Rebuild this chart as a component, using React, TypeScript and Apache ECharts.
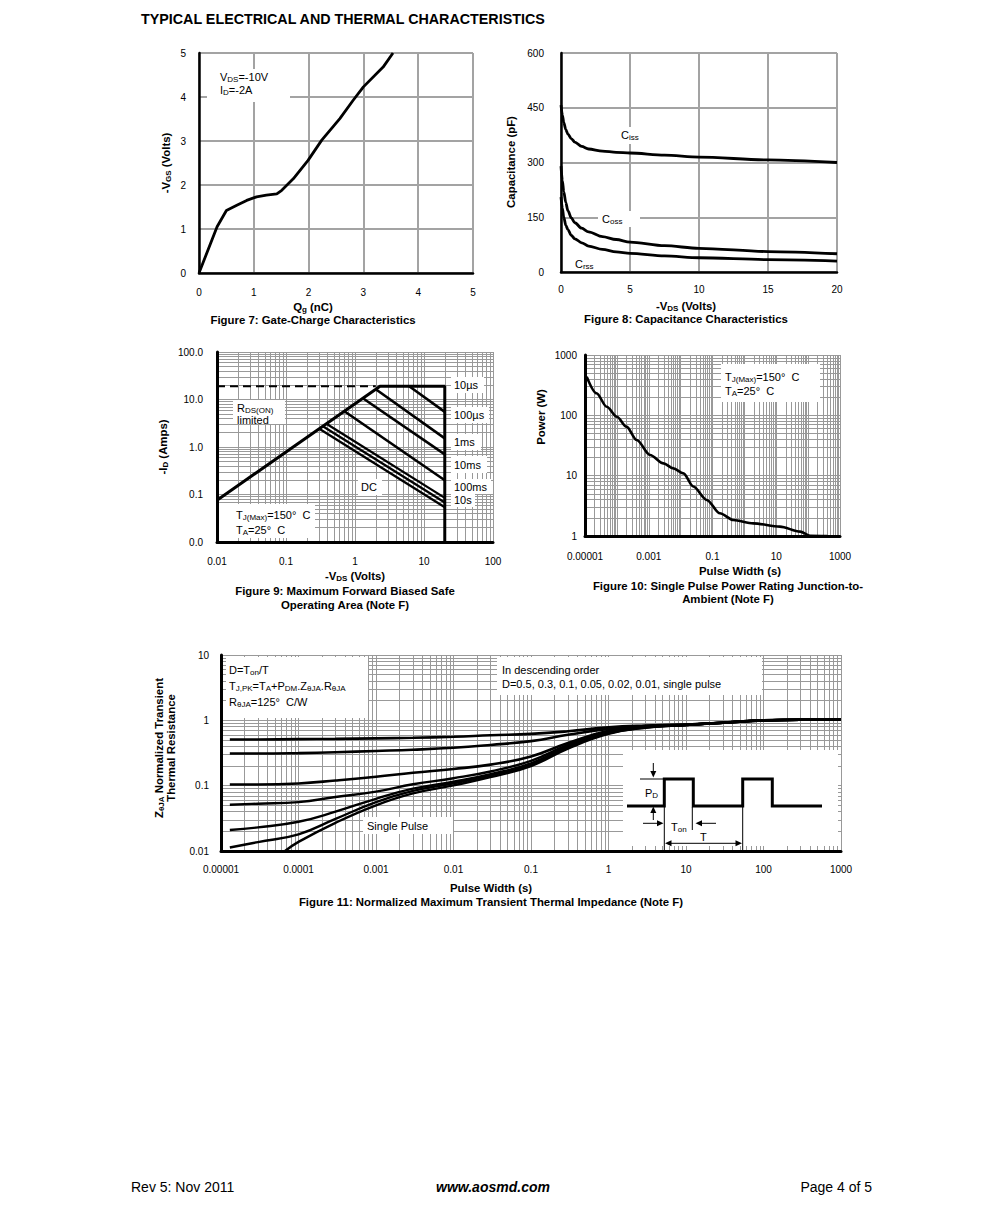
import React, { useEffect, useRef } from 'react';
import * as echarts from 'echarts';

const FONT = '"Liberation Sans", Arial, Helvetica, sans-serif';

// ---------------- Figure 7: Gate charge ----------------
const fig7Qg = [0, 0.33, 0.5, 0.69, 0.87, 1.05, 1.23, 1.42, 1.51, 1.72, 1.99, 2.24, 2.57, 2.81, 3.0, 3.36, 3.54];
const fig7Vgs = [0, 1.05, 1.42, 1.54, 1.65, 1.73, 1.77, 1.8, 1.88, 2.14, 2.56, 3.02, 3.51, 3.92, 4.23, 4.68, 5.0];

// ---------------- Figure 8: Capacitance ----------------
const fig8Vds = [0, 0.1, 0.2, 0.35, 0.5, 0.75, 1, 1.5, 2, 3, 4, 5, 7.5, 10, 15, 20];
const fig8Ciss = [457, 430, 410, 390, 378, 365, 356, 344, 337, 331, 328, 326, 320, 315, 307, 300];
const fig8Coss = [290, 250, 220, 190, 168, 148, 135, 120, 110, 97, 89, 82, 72, 65, 56, 50];
const fig8Crss = [205, 175, 150, 128, 116, 100, 91, 80, 71, 62, 55, 51, 44, 39, 34, 30];

// ---------------- Figure 9: SOA ----------------
const fig9Envelope = [[0.01, 0.076], [2.0, 16.4], [2.3, 19], [20, 19], [20, 0.01]];
const fig9RdsDashed = [[0.01, 19], [2.0, 19]];
const fig9Line10us = [[6.1, 19], [20, 5.5]];
const fig9Line100us = [[2.0, 16.4], [20, 1.52]];
const fig9Line1ms = [[1.3, 10.6], [20, 0.7]];
const fig9Line10ms = [[0.71, 5.6], [20, 0.2]];
const fig9Line100ms = [[0.385, 3.08], [20, 0.085]];
const fig9Line10s = [[0.342, 2.73], [20, 0.0676]];
const fig9LineDC = [[0.3035, 2.42], [20, 0.0538]];

// ---------------- Figure 10: Single pulse power ----------------
const fig10Pulse = [1.13e-5, 2.3e-5, 4.8e-5, 1e-4, 2e-4, 4.2e-4, 1.1e-3, 2.9e-3, 5.9e-3, 0.0122, 0.025, 0.066, 0.17, 0.45, 1.9, 13, 56, 115, 400];
const fig10Power = [438, 232, 139, 95, 65, 39, 22, 16, 13.2, 10.9, 6.6, 3.96, 2.38, 1.84, 1.62, 1.43, 1.18, 1.01, 1.0];

// ---------------- Figure 11: Transient thermal impedance ----------------
const fig11X = [1.3e-5, 3e-5, 1e-4, 3e-4, 1e-3, 3e-3, 0.01, 0.03, 0.1, 0.3, 1, 3, 10, 30, 100, 1000];
const fig11D05 = [0.51, 0.51, 0.515, 0.52, 0.53, 0.54, 0.56, 0.59, 0.62, 0.68, 0.78, 0.83, 0.86, 0.92, 1.0, 1.03];
const fig11D03 = [0.31, 0.31, 0.315, 0.325, 0.34, 0.355, 0.38, 0.42, 0.48, 0.6, 0.74, 0.82, 0.86, 0.92, 1.0, 1.03];
const fig11D01 = [0.104, 0.104, 0.108, 0.12, 0.137, 0.158, 0.18, 0.21, 0.28, 0.45, 0.69, 0.8, 0.855, 0.92, 1.0, 1.03];
const fig11D005 = [0.051, 0.053, 0.056, 0.067, 0.081, 0.105, 0.13, 0.165, 0.24, 0.42, 0.66, 0.79, 0.85, 0.92, 1.0, 1.03];
const fig11D002 = [0.021, 0.023, 0.028, 0.04, 0.063, 0.09, 0.115, 0.15, 0.22, 0.4, 0.64, 0.78, 0.85, 0.92, 1.0, 1.03];
const fig11D001 = [0.0113, 0.0137, 0.018, 0.031, 0.056, 0.083, 0.109, 0.143, 0.21, 0.39, 0.63, 0.78, 0.85, 0.92, 1.0, 1.03];
const fig11SingleX = [6.7e-5, 1e-4, 3e-4, 1e-3, 3e-3, 0.01, 0.03, 0.1, 0.3, 1, 3, 10, 30, 100, 1000];
const fig11Single = [0.01, 0.0138, 0.027, 0.05, 0.076, 0.101, 0.135, 0.2, 0.37, 0.62, 0.77, 0.85, 0.92, 1.0, 1.03];

// ---------------- Tick labels ----------------
const fig9XTicks = [0.01, 0.1, 1, 10, 100];
const fig9XLabels = ['0.01', '0.1', '1', '10', '100'];
const fig9YTicks = [0.01, 0.1, 1, 10, 100];
const fig9YLabels = ['0.0', '0.1', '1.0', '10.0', '100.0'];
const fig10XTicks = [1e-5, 1e-3, 0.1, 10, 1000];
const fig10XLabels = ['0.00001', '0.001', '0.1', '10', '1000'];
const fig10YTicks = [1, 10, 100, 1000];
const fig10YLabels = ['1', '10', '100', '1000'];
const fig11XTicks = [1e-5, 1e-4, 1e-3, 1e-2, 0.1, 1, 10, 100, 1000];
const fig11XLabels = ['0.00001', '0.0001', '0.001', '0.01', '0.1', '1', '10', '100', '1000'];
const fig11YTicks = [0.01, 0.1, 1, 10];
const fig11YLabels = ['0.01', '0.1', '1', '10'];

function decadeGrid(lo: number, hi: number) {
  const out: number[] = [];
  for (let e = lo; e < hi; e++) for (let n = 1; n <= 9; n++) out.push(Number((n * Math.pow(10, e)).toPrecision(3)));
  out.push(Number(Math.pow(10, hi).toPrecision(3)));
  return out;
}

function fmtLog(ticks: number[], labels: string[]) {
  return (v: number) => {
    let best = 0;
    let bd = Infinity;
    ticks.forEach((t, i) => {
      const d = Math.abs(Math.log10(t) - Math.log10(v));
      if (d < bd) { bd = d; best = i; }
    });
    return bd < 0.05 ? labels[best] : '';
  };
}

type Part = string | string[];
function richText(parts: Part[]) {
  return parts.map((p) => (typeof p === 'string' ? `{n|${p}}` : `{s|${p[0]}}`)).join('');
}
function txt(x: number, y: number, parts: Part[], o: any = {}) {
  const size = o.size ?? 11;
  const fw = o.bold ? 'bold' : 'normal';
  const fs = o.italic ? 'italic' : 'normal';
  const subSize = Math.round(size * 0.72);
  const align = o.align ?? 'left';
  return {
    type: 'text', x, y, rotation: o.rot ?? 0, z: 30,
    style: {
      text: richText(parts),
      rich: {
        n: { fontSize: size, fontWeight: fw, fontStyle: fs, fontFamily: FONT, fill: '#000', color: '#000' },
        s: { fontSize: subSize, fontWeight: fw, fontStyle: fs, fontFamily: FONT, fill: '#000', color: '#000', padding: [Math.round(size * 0.45), 0, 0, 0] },
      },
      fontSize: size, fontFamily: FONT, fontWeight: fw, fontStyle: fs, fill: '#000',
      textAlign: align, align,
      textVerticalAlign: 'middle', verticalAlign: 'middle',
    },
  };
}
const box = (x: number, y: number, w: number, h: number) => ({ type: 'rect', z: 1, shape: { x, y, width: w, height: h }, style: { fill: '#fff' } });
const pl = (pts: number[][], w: number) => ({ type: 'polyline', z: 30, shape: { points: pts }, style: { stroke: '#000', lineWidth: w, fill: null } });
const tri = (pts: number[][]) => ({ type: 'polygon', z: 30, shape: { points: pts }, style: { fill: '#000' } });

const zip = (xs: number[], ys: number[]) => xs.map((x, i) => [x, ys[i]]);

const axisText = { fontSize: 10, fontFamily: FONT, color: '#000' };
const linSplit = { show: true, lineStyle: { color: '#a3a3a3', width: 2 } };
const logSplit = { show: true, lineStyle: { color: '#999', width: 1 } };
const blackAxis = (w: number) => ({ show: true, onZero: false, lineStyle: { color: '#000', width: w } });

function logAxis(gi: number, min: number, max: number, lo: number, hi: number, ticks: number[], labels: string[], margin: number, w = 3) {
  return {
    type: 'log', logBase: 10, gridIndex: gi, min, max,
    axisLine: blackAxis(w),
    axisTick: { show: false, customValues: decadeGrid(lo, hi) },
    axisLabel: { ...axisText, margin, customValues: ticks, formatter: fmtLog(ticks, labels) },
    splitLine: logSplit,
    minorTick: { show: false },
  };
}

const lineSeries = (gi: number, data: number[][], width = 2.6, extra: any = {}) => ({
  type: 'line', xAxisIndex: gi, yAxisIndex: gi, data, symbol: 'none', showSymbol: false, silent: true,
  lineStyle: { color: '#000', width }, clip: true, z: 3, ...extra,
});

function buildOption() {
  const grid = [
    { left: 199, top: 53, width: 274, height: 220 },
    { left: 561, top: 53, width: 276, height: 219 },
    { left: 217, top: 352, width: 276, height: 190 },
    { left: 585, top: 355, width: 255, height: 181 },
    { left: 221, top: 655, width: 620, height: 196 },
  ];
  const xAxis = [
    { type: 'value', gridIndex: 0, min: 0, max: 5, interval: 1, axisLine: blackAxis(2.5), axisTick: { show: false }, axisLabel: { ...axisText, margin: 14 }, splitLine: linSplit },
    { type: 'value', gridIndex: 1, min: 0, max: 20, interval: 5, axisLine: blackAxis(2.5), axisTick: { show: false }, axisLabel: { ...axisText, margin: 12 }, splitLine: linSplit },
    logAxis(2, 0.01, 100, -2, 2, fig9XTicks, fig9XLabels, 14),
    logAxis(3, 1e-5, 1000, -5, 3, fig10XTicks, fig10XLabels, 15),
    logAxis(4, 1e-5, 1000, -5, 3, fig11XTicks, fig11XLabels, 13),
  ];
  const yAxis = [
    { type: 'value', gridIndex: 0, min: 0, max: 5, interval: 1, axisLine: blackAxis(2.5), axisTick: { show: false }, axisLabel: { ...axisText, margin: 13 }, splitLine: linSplit },
    { type: 'value', gridIndex: 1, min: 0, max: 600, interval: 150, axisLine: blackAxis(2.5), axisTick: { show: false }, axisLabel: { ...axisText, margin: 17 }, splitLine: linSplit },
    logAxis(2, 0.01, 100, -2, 2, fig9YTicks, fig9YLabels, 14),
    logAxis(3, 1, 1000, 0, 3, fig10YTicks, fig10YLabels, 8),
    logAxis(4, 0.01, 10, -2, 1, fig11YTicks, fig11YLabels, 12),
  ];

  const sm = { smooth: 0.3, smoothMonotone: 'x' };
  const sm11 = { smooth: 0.45 };
  const series = [
    lineSeries(0, zip(fig7Qg, fig7Vgs), 2.8),
    lineSeries(1, zip(fig8Vds, fig8Ciss), 2.8, sm),
    lineSeries(1, zip(fig8Vds, fig8Coss), 2.8, sm),
    lineSeries(1, zip(fig8Vds, fig8Crss), 2.8, sm),
    lineSeries(2, fig9Envelope, 3),
    lineSeries(2, fig9RdsDashed, 2, { lineStyle: { color: '#000', width: 2, type: [8, 5] } }),
    lineSeries(2, fig9Line10us, 2.6),
    lineSeries(2, fig9Line100us, 2.6),
    lineSeries(2, fig9Line1ms, 2.6),
    lineSeries(2, fig9Line10ms, 2.6),
    lineSeries(2, fig9Line100ms, 2.3),
    lineSeries(2, fig9Line10s, 2.3),
    lineSeries(2, fig9LineDC, 2.3),
    lineSeries(3, zip(fig10Pulse, fig10Power), 2.6, sm),
    lineSeries(4, zip(fig11X, fig11D05), 2.6, sm11),
    lineSeries(4, zip(fig11X, fig11D03), 2.6, sm11),
    lineSeries(4, zip(fig11X, fig11D01), 2.6, sm11),
    lineSeries(4, zip(fig11X, fig11D005), 2.4, sm11),
    lineSeries(4, zip(fig11X, fig11D002), 2.4, sm11),
    lineSeries(4, zip(fig11X, fig11D001), 2.4, sm11),
    lineSeries(4, zip(fig11SingleX, fig11Single), 2.4, sm11),
  ];

  const B = { bold: true, size: 11.4 };
  const R90 = Math.PI / 2;
  const graphic: any[] = [
    // Page header / footer
    txt(141, 19, ['TYPICAL ELECTRICAL AND THERMAL CHARACTERISTICS'], { bold: true, size: 14.3 }),
    txt(131, 1187, ['Rev 5: Nov 2011'], { size: 14 }),
    txt(493, 1187, ['www.aosmd.com'], { size: 14, bold: true, italic: true, align: 'center' }),
    txt(872, 1187, ['Page 4 of 5'], { size: 14, align: 'right' }),

    // Figure 7
    box(207, 69, 83, 33),
    txt(220, 77, ['V', ['DS'], '=-10V']),
    txt(220, 90, ['I', ['D'], '=-2A']),
    txt(166, 163, ['-V', ['GS'], ' (Volts)'], { ...B, align: 'center', rot: R90 }),
    txt(313, 307, ['Q', ['g'], ' (nC)'], { ...B, align: 'center' }),
    txt(313, 320, ['Figure 7: Gate-Charge Characteristics'], { ...B, align: 'center' }),

    // Figure 8
    box(618, 127, 26, 17),
    txt(621, 135, ['C', ['iss']]),
    box(598, 211, 42, 16),
    txt(602, 219, ['C', ['oss']]),
    txt(575, 264, ['C', ['rss']]),
    txt(511, 162, ['Capacitance (pF)'], { ...B, align: 'center', rot: R90 }),
    txt(686, 306, ['-V', ['DS'], ' (Volts)'], { ...B, align: 'center' }),
    txt(686, 319, ['Figure 8: Capacitance Characteristics'], { ...B, align: 'center' }),

    // Figure 9
    box(233, 400, 52, 24),
    txt(237, 408, ['R', ['DS(ON)']]),
    txt(237, 420, ['limited']),
    box(219, 504, 96, 34),
    txt(236, 515, ['T', ['J(Max)'], '=150°  C']),
    txt(236, 530, ['T', ['A'], '=25°  C']),
    box(451, 377, 33, 16), txt(454, 385, ['10µs']),
    box(451, 407, 38, 16), txt(454, 415, ['100µs']),
    box(451, 434, 30, 16), txt(454, 442, ['1ms']),
    box(451, 456, 36, 17), txt(454, 465, ['10ms']),
    box(451, 479, 40, 15), txt(454, 487, ['100ms']),
    box(451, 493, 24, 14), txt(454, 500, ['10s']),
    box(358, 479, 24, 16), txt(361, 487, ['DC']),
    txt(163, 447, ['-I', ['D'], ' (Amps)'], { ...B, align: 'center', rot: R90 }),
    txt(355, 576, ['-V', ['DS'], ' (Volts)'], { ...B, align: 'center' }),
    txt(345, 591, ['Figure 9: Maximum Forward Biased Safe'], { ...B, align: 'center' }),
    txt(345, 605, ['Operating Area (Note F)'], { ...B, align: 'center' }),

    // Figure 10
    box(721, 364, 99, 38),
    txt(725, 377, ['T', ['J(Max)'], '=150°  C']),
    txt(725, 391, ['T', ['A'], '=25°  C']),
    txt(541, 417, ['Power (W)'], { ...B, align: 'center', rot: R90 }),
    txt(740, 571, ['Pulse Width (s)'], { ...B, align: 'center' }),
    txt(728, 586, ['Figure 10: Single Pulse Power Rating Junction-to-'], { ...B, align: 'center' }),
    txt(728, 599, ['Ambient (Note F)'], { ...B, align: 'center' }),

    // Figure 11
    box(226, 657, 142, 61),
    txt(229, 670, ['D=T', ['on'], '/T']),
    txt(229, 686, ['T', ['J,PK'], '=T', ['A'], '+P', ['DM'], '.Z', ['θJA'], '.R', ['θJA']]),
    txt(229, 702, ['R', ['θJA'], '=125°  C/W']),
    box(497, 657, 265, 38),
    txt(502, 670, ['In descending order']),
    txt(502, 684, ['D=0.5, 0.3, 0.1, 0.05, 0.02, 0.01, single pulse']),
    box(363, 817, 90, 17),
    txt(367, 826, ['Single Pulse']),
    box(623, 750, 215, 96),
    txt(159, 748, ['Z', ['θJA'], ' Normalized Transient'], { ...B, align: 'center', rot: R90 }),
    txt(171, 748, ['Thermal Resistance'], { ...B, align: 'center', rot: R90 }),
    txt(491, 888, ['Pulse Width (s)'], { ...B, align: 'center' }),
    txt(491, 902, ['Figure 11: Normalized Maximum Transient Thermal Impedance (Note F)'], { ...B, align: 'center' }),

    // Pulse diagram
    pl([[627, 806], [664.3, 806], [664.3, 779], [693.3, 779], [693.3, 806], [742.7, 806], [742.7, 779], [772.3, 779], [772.3, 806], [822, 806]], 3),
    pl([[640, 779], [664, 779]], 1),
    pl([[653.3, 763], [653.3, 772]], 1),
    tri([[650.3, 771], [656.3, 771], [653.3, 777.5]]),
    pl([[653.3, 820], [653.3, 812]], 1),
    tri([[650.3, 813], [656.3, 813], [653.3, 806.5]]),
    pl([[664.3, 806], [664.3, 850]], 1),
    pl([[742.7, 806], [742.7, 850]], 1),
    pl([[692.3, 807], [692.3, 830]], 1),
    pl([[643, 823.3], [658, 823.3]], 1),
    tri([[657, 820.3], [657, 826.3], [663.5, 823.3]]),
    pl([[716, 823.3], [701, 823.3]], 1),
    tri([[702, 820.3], [702, 826.3], [695.5, 823.3]]),
    pl([[670, 843.3], [737, 843.3]], 1),
    tri([[671.5, 840.3], [671.5, 846.3], [665, 843.3]]),
    tri([[735.5, 840.3], [735.5, 846.3], [742, 843.3]]),
    txt(645, 793, ['P', ['D']]),
    txt(671, 827, ['T', ['on']]),
    txt(700, 837, ['T']),
  ];

  return { animation: false, backgroundColor: '#fff', grid, xAxis, yAxis, series, graphic };
}

export default function App() {
  const ref = useRef<HTMLDivElement>(null);
  useEffect(() => {
    if (!ref.current) return;
    const chart = echarts.init(ref.current, undefined, { renderer: 'svg' });
    chart.setOption(buildOption() as any);
    return () => chart.dispose();
  }, []);
  return (
    <div
      ref={ref}
      style={{ position: 'absolute', left: 0, top: 0, width: 991, height: 1219, background: '#fff' }}
    />
  );
}
